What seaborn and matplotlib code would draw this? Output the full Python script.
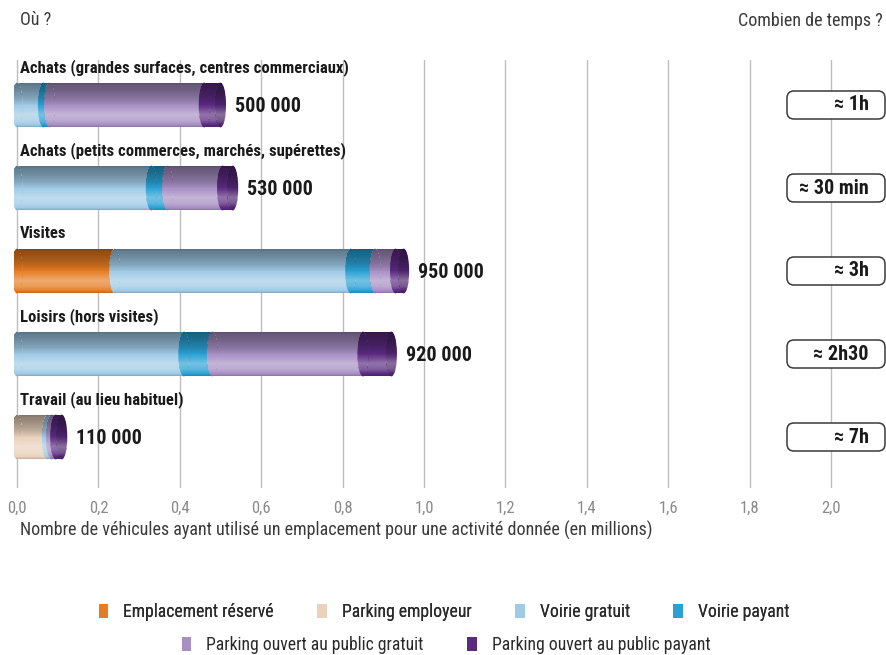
import numpy as np
import pandas as pd
import matplotlib
matplotlib.use("Agg")
import matplotlib.pyplot as plt
import matplotlib.colors as mcolors
from matplotlib.patches import Ellipse, FancyBboxPatch, Patch, Rectangle
import seaborn as sns

# ---------------- data ----------------
categories = [
    "Achats (grandes surfaces, centres commerciaux)",
    "Achats (petits commerces, marchés, supérettes)",
    "Visites",
    "Loisirs (hors visites)",
    "Travail (au lieu habituel)",
]
series_names = [
    "Emplacement réservé",
    "Parking employeur",
    "Voirie gratuit",
    "Voirie payant",
    "Parking ouvert au public gratuit",
    "Parking ouvert au public payant",
]
emplacement_reserve = [0.0, 0.0, 0.24, 0.0, 0.0]
parking_employeur = [0.0, 0.0, 0.0, 0.0, 0.075]
voirie_gratuit = [0.065, 0.33, 0.58, 0.41, 0.01]
voirie_payant = [0.015, 0.04, 0.06, 0.07, 0.0]
parking_public_gratuit = [0.38, 0.135, 0.05, 0.37, 0.01]
parking_public_payant = [0.04, 0.025, 0.02, 0.07, 0.015]
total_labels = ["500 000", "530 000", "950 000", "920 000", "110 000"]
durations = ["≈ 1h", "≈ 30 min", "≈ 3h", "≈ 2h30", "≈ 7h"]
x_ticks = [0.0, 0.2, 0.4, 0.6, 0.8, 1.0, 1.2, 1.4, 1.6, 1.8, 2.0]
x_tick_labels = ["0,0", "0,2", "0,4", "0,6", "0,8", "1,0", "1,2", "1,4", "1,6", "1,8", "2,0"]
colors = ["#E67D24", "#EAD2BC", "#A0CAE6", "#2AA1D4", "#A78FC4", "#5A2A80"]

# ---------------- style ----------------
sns.set_theme(style="white")
FONT = ["Roboto Condensed", "Fira Sans Condensed", "PT Sans Narrow",
        "IBM Plex Sans Condensed", "Barlow Condensed", "Archivo Narrow", "DejaVu Sans"]
plt.rcParams["font.family"] = FONT

W, H, DPI = 887, 655, 100
fig = plt.figure(figsize=(W / DPI, H / DPI), dpi=DPI)

PX = 407.0          # pixels per data unit (million)
X0 = 17             # pixel of x = 0
AX_LEFT, AX_RIGHT, AX_TOP, AX_BOT = 14, 887, 60, 488
ax = fig.add_axes([AX_LEFT / W, 1 - AX_BOT / H, (AX_RIGHT - AX_LEFT) / W, (AX_BOT - AX_TOP) / H])

BAR_H = 0.54
CAP_W = 11 / PX

series = np.array([emplacement_reserve, parking_employeur, voirie_gratuit,
                   voirie_payant, parking_public_gratuit, parking_public_payant])
cum = np.cumsum(series, axis=0)
df = pd.DataFrame({"categorie": categories})
for k, name in enumerate(series_names):
    df[name] = cum[k]

# stacked bars: cumulative totals drawn from largest to smallest
for k in range(len(series_names) - 1, -1, -1):
    n0 = len(ax.patches)
    sns.barplot(data=df, x=series_names[k], y="categorie", orient="h",
                color=colors[k], saturation=1, width=BAR_H, errorbar=None,
                linewidth=0, ax=ax)
    for p in ax.patches[n0:]:
        p.set_zorder(2 + 2 * (len(series_names) - 1 - k))

# cylinder shading profile (thin horizontal strips, top -> bottom)
NS = 45
tc = (np.arange(NS) + 0.5) / NS
sv = np.interp(tc, [0, 0.05, 0.15, 0.35, 0.55, 0.72, 0.85, 0.95, 1.0],
               [-0.45, -0.38, -0.33, -0.18, 0.06, 0.34, 0.24, 0.0, -0.18])


def add_shade(xc, half_w, yc, z, ellipse=False):
    for j in range(NS):
        if abs(sv[j]) < 0.01:
            continue
        y0 = yc - BAR_H / 2 + j * BAR_H / NS
        if ellipse:
            r = (tc[j] - 0.5) * 2
            hw = half_w * np.sqrt(max(0.0, 1 - r * r))
        else:
            hw = half_w
        g = 1.0 if sv[j] > 0 else 0.0
        ax.add_patch(Rectangle((xc - hw, y0), 2 * hw, BAR_H / NS,
                               facecolor=(g, g, g, abs(sv[j])), edgecolor="none",
                               antialiased=False, zorder=z))


for i in range(len(categories)):
    total = cum[-1, i]
    add_shade(total / 2, total / 2, i, 15)
    last_k = max(k for k in range(len(series_names)) if series[k, i] > 0)
    for k in range(len(series_names)):
        if series[k, i] <= 0:
            continue
        xl = cum[k, i] - series[k, i]
        e = Ellipse((xl, i), CAP_W, BAR_H, facecolor=colors[k], edgecolor="none", zorder=20 + k)
        ax.add_patch(e)
        add_shade(xl, CAP_W / 2, i, 20 + k + 0.5, ellipse=True)
    dark = np.array(mcolors.to_rgb(colors[last_k])) * 0.85
    e = Ellipse((total, i), CAP_W, BAR_H, facecolor=dark, edgecolor="none", zorder=30)
    ax.add_patch(e)
    add_shade(total, CAP_W / 2, i, 30.5, ellipse=True)

    # category label and total
    ax.text(0.007, i - 0.455, categories[i], ha="left", va="center", fontsize=12,
            fontweight="bold", color="#1a1a1a", zorder=40)
    ax.text(total + 0.035, i + 0.02, total_labels[i], ha="left", va="center",
            fontsize=14.5, fontweight="bold", color="#1a1a1a", zorder=40)

ax.set_xlim(-(X0 - AX_LEFT) / PX, (AX_RIGHT - X0) / PX)
ax.set_ylim(len(categories) - 1 + (AX_BOT - 437) / 83, -(105 - AX_TOP) / 83)
ax.set_xticks(x_ticks, x_tick_labels)
ax.set_yticks([])
ax.set_xlabel("")
ax.set_ylabel("")
ax.tick_params(axis="x", length=0, pad=9, labelsize=12, labelcolor="#8a8a8a")
ax.grid(axis="x", color="#BDBDBD", linewidth=1)
ax.grid(axis="y", visible=False)
ax.set_axisbelow(True)
for s in ax.spines.values():
    s.set_visible(False)
ax.set_facecolor("none")

# duration boxes (right column)
for i, d in enumerate(durations):
    yc = ax.transData.transform((0, i))[1]
    box = FancyBboxPatch((787 / DPI, (yc - 14) / DPI), 98 / DPI, 28 / DPI,
                         boxstyle="round,pad=0,rounding_size=0.07",
                         transform=fig.dpi_scale_trans, facecolor="white",
                         edgecolor="#3a3a3a", linewidth=1.1, zorder=5)
    fig.add_artist(box)
    fig.text(869 / W, yc / H, d, ha="right", va="center", fontsize=14.5,
             fontweight="bold", color="#1a1a1a", zorder=6)

# header texts
fig.text(20 / W, 1 - 20 / H, "Où ?", ha="left", va="center", fontsize=13, color="#3a3a3a")
fig.text(883 / W, 1 - 21 / H, "Combien de temps ?", ha="right", va="center",
         fontsize=13, color="#3a3a3a")
fig.text(20 / W, 1 - 530 / H,
         "Nombre de véhicules ayant utilisé un emplacement pour une activité donnée (en millions)",
         ha="left", va="center", fontsize=13, color="#3a3a3a")

# legends (two centred rows)
handles = [Patch(facecolor=c, edgecolor="none") for c in colors]
leg_kw = dict(frameon=False, fontsize=12.7, handlelength=0.55, handleheight=0.8,
              handletextpad=0.85, columnspacing=2.45, labelcolor="#2a2a2a")
leg1 = fig.legend(handles[:4], series_names[:4], loc="center", ncol=4,
                  bbox_to_anchor=(444 / W, 1 - 612 / H), **leg_kw)
fig.add_artist(leg1)
fig.legend(handles[4:], series_names[4:], loc="center", ncol=2,
           bbox_to_anchor=(446 / W, 1 - 645 / H), **leg_kw)

fig.savefig("out.png", dpi=DPI)
